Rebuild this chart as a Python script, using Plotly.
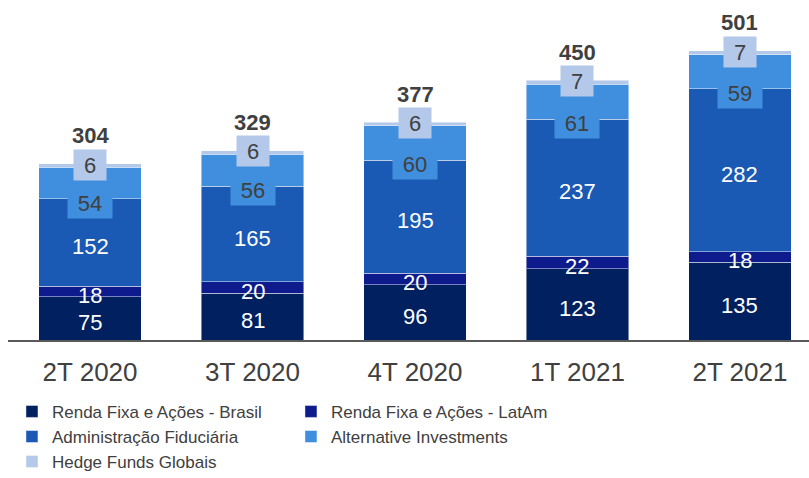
import plotly.graph_objects as go

categories = ["2T 2020", "3T 2020", "4T 2020", "1T 2021", "2T 2021"]
series_names = ["Renda Fixa e Ações - Brasil", "Renda Fixa e Ações - LatAm",
                "Administração Fiduciária", "Alternative Investments", "Hedge Funds Globais"]
brasil = [75, 81, 96, 123, 135]
latam = [18, 20, 20, 22, 18]
adm = [152, 165, 195, 237, 282]
alt = [54, 56, 60, 61, 59]
hedge = [6, 6, 6, 7, 7]
totals = [304, 329, 377, 450, 501]

series = [brasil, latam, adm, alt, hedge]
colors = ["#00205f", "#0d1b8c", "#1a5ab4", "#3f8fde", "#b4c8e9"]

fig = go.Figure()
for name, vals, col in zip(series_names, series, colors):
    fig.add_trace(go.Bar(
        x=categories, y=vals, name=name, width=0.63,
        marker=dict(color=col, line=dict(color="rgba(255,255,255,0.45)", width=1)),
        hoverinfo="skip",
    ))

annotations = []
for i, cat in enumerate(categories):
    base = 0
    for k, vals in enumerate(series):
        v = vals[i]
        mid = base + v / 2
        if k <= 2:
            annotations.append(dict(x=cat, y=mid, text=str(v), showarrow=False,
                                    font=dict(size=22, color="white", family="Liberation Sans, Arial"),
                                    yshift=-4))
        elif k == 3:
            annotations.append(dict(x=cat, y=base, text=str(v), showarrow=False,
                                    font=dict(size=22, color="#404040", family="Liberation Sans, Arial"),
                                    bgcolor=colors[3], width=42, height=28,
                                    yshift=-4))
        else:
            annotations.append(dict(x=cat, y=mid, text=str(v), showarrow=False,
                                    font=dict(size=22, color="#404040", family="Liberation Sans, Arial"),
                                    bgcolor=colors[4], width=30, height=28,
                                    yshift=1))
        base += v
    annotations.append(dict(x=cat, y=base, text="<b>%d</b>" % totals[i], showarrow=False,
                            font=dict(size=22, color="#404040", family="Liberation Sans, Arial"),
                            yshift=28))

fig.update_layout(
    barmode="stack",
    width=809, height=478,
    margin=dict(l=8, r=0, t=0, b=138, autoexpand=False),
    paper_bgcolor="white", plot_bgcolor="white",
    annotations=annotations,
    showlegend=True,
    legend=dict(orientation="h", x=0.0148, xref="container", xanchor="left",
                y=0.176, yref="container", yanchor="top",
                entrywidth=234, entrywidthmode="pixels", traceorder="normal",
                font=dict(size=17, color="#404040", family="Liberation Sans, Arial"),
                itemclick=False, itemdoubleclick=False),
    xaxis=dict(range=[-0.505, 4.425], showline=True, linecolor="#595959", linewidth=2,
               ticks="", showgrid=False, zeroline=False, automargin=False,
               ticklabelstandoff=8,
               tickfont=dict(size=26, color="#404040", family="Liberation Sans, Arial")),
    yaxis=dict(range=[0, 588.7], visible=False, showgrid=False, zeroline=False, automargin=False),
)

fig.write_html("out.html", config={"displayModeBar": False, "staticPlot": True},
               post_script="document.body.style.margin='0';document.body.style.padding='0';")
